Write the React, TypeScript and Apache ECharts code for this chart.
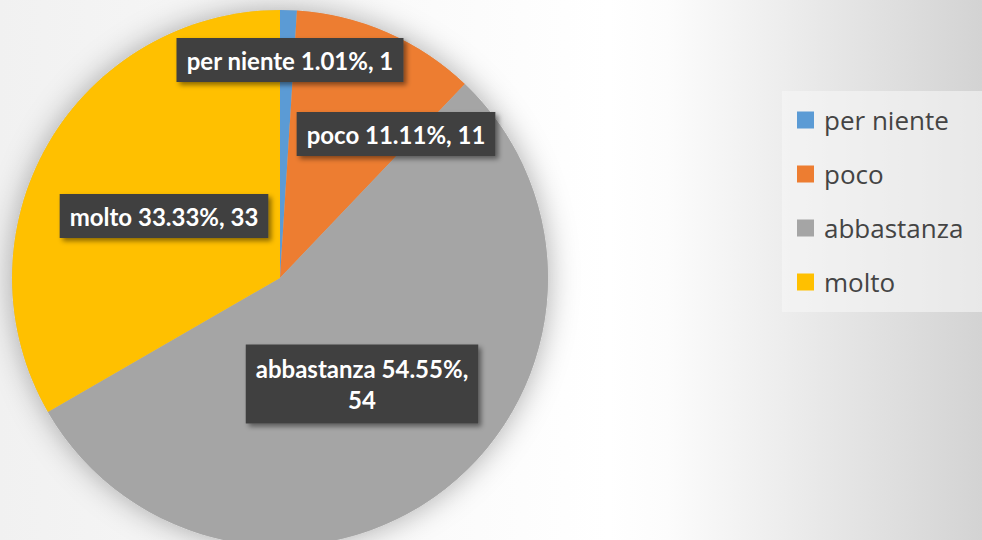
import React, { useEffect, useRef } from "react";
import * as echarts from "echarts";

const categories = ["per niente", "poco", "abbastanza", "molto"];
const values = [1, 11, 54, 33];
const colors = ["#5B9BD5", "#ED7D31", "#A5A5A5", "#FFC000"];
// label centres (px) as placed in the reference, by category
const labelCenters: Record<string, number[]> = {
  "per niente": [290, 60],
  poco: [396, 134],
  abbastanza: [362, 384],
  molto: [164, 216],
};

export default function App() {
  const ref = useRef<HTMLDivElement>(null);
  useEffect(() => {
    if (!ref.current) return;
    const chart = echarts.init(ref.current, undefined, { renderer: "svg" });
    const center = [280, 278];
    const radius = 268;
    chart.setOption({
      animation: false,
      backgroundColor: {
        type: "linear",
        x: 0,
        y: 0,
        x2: 1,
        y2: 0,
        colorStops: [
          { offset: 0, color: "#f1f1f1" },
          { offset: 0.62, color: "#ffffff" },
          { offset: 0.68, color: "#fcfcfc" },
          { offset: 1, color: "#d3d3d3" },
        ],
      },
      legend: {
        orient: "vertical",
        left: 782,
        top: 91,
        padding: [16, 20, 17, 15],
        backgroundColor: "rgba(246,246,246,0.6)",
        data: categories,
        icon: "rect",
        itemWidth: 17,
        itemHeight: 17,
        itemGap: 28,
        textStyle: {
          fontFamily: "Open Sans",
          fontSize: 26,
          lineHeight: 24,
          color: "#444444",
          padding: [0, 0, 0, 5],
        },
      },
      series: [
        {
          type: "pie",
          silent: true,
          center,
          radius,
          label: { show: false },
          labelLine: { show: false },
          itemStyle: {
            color: "#b8b8b8",
            shadowBlur: 30,
            shadowColor: "rgba(0,0,0,0.32)",
          },
          data: [{ value: 1, name: "_shadow" }],
          z: 1,
        },
        {
          type: "pie",
          center,
          radius,
          startAngle: 90,
          clockwise: true,
          z: 2,
          color: colors,
          labelLine: { show: false },
          label: {
            show: true,
            position: "inside",
            formatter: "{b} {d}%, {c}",
            color: "#ffffff",
            fontFamily: "Lato",
            fontWeight: "bold",
            fontSize: 24,
            lineHeight: 31,
            align: "center",
            backgroundColor: "#414141",
            padding: [6, 10, 7, 10],
            shadowColor: "rgba(0,0,0,0.45)",
            shadowBlur: 5,
            shadowOffsetX: 3,
            shadowOffsetY: 3,
          },
          labelLayout: (params: any) => {
            const txt: string = params.text || "";
            const key =
              categories.find((c) => txt.startsWith(c + " ")) || categories[0];
            const p = labelCenters[key];
            return { x: p[0], y: p[1], align: "center", verticalAlign: "middle" };
          },
          data: categories.map((name, i) => {
            const item: any = { name, value: values[i] };
            if (name === "abbastanza") {
              item.label = {
                formatter: "{b} {d}%,\n{c}",
                padding: [8, 10, 9, 10],
              };
            }
            return item;
          }),
        },
      ],
    });
    return () => chart.dispose();
  }, []);
  return (
    <div
      ref={ref}
      style={{ position: "fixed", left: 0, top: 0, width: 982, height: 540 }}
    />
  );
}
